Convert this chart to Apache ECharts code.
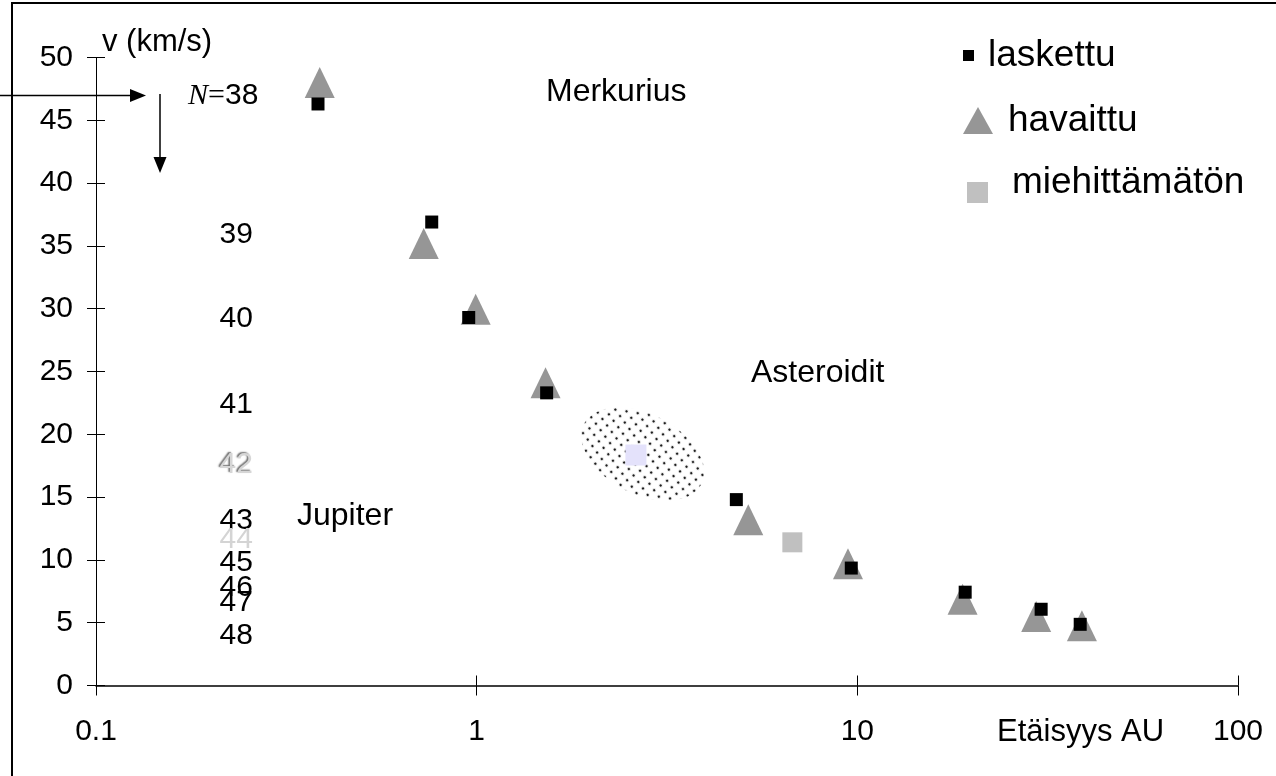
<!DOCTYPE html>
<html>
<head>
<meta charset="utf-8">
<script src="https://cdn.jsdelivr.net/npm/echarts@6/dist/echarts.min.js"></script>
<style>
  html, body { margin: 0; padding: 0; background: #fff; }
  #chart { width: 1276px; height: 776px; }
</style>
</head>
<body>
<div id="chart"></div>
<script>
// Orbital velocity v (km/s) against distance from the Sun (AU)
const calcDist = [0.383, 0.762, 0.953, 1.527, 4.81, 9.64, 19.2, 30.4, 38.5];
const calcVel  = [46.3, 36.9, 29.3, 23.3, 14.8, 9.35, 7.43, 6.07, 4.87];

const obsDist  = [0.387, 0.726, 0.994, 1.517, 5.17, 9.45, 18.9, 29.5, 38.9];
const obsVel   = [48.0, 35.2, 29.95, 24.1, 13.2, 9.7, 6.87, 5.5, 4.75];

const probeDist = [6.75];
const probeVel  = [11.4];

const beltDist = [2.62];
const beltVel  = [18.35];
const beltCenter = [2.73, 18.43];

// Quantum levels N and their velocities
const levelN   = [38, 39, 40, 41, 42, 43, 44, 45, 46, 47, 48];
const levelVel = [46.96, 35.86, 29.23, 22.36, 17.57, 13.1, 11.58, 9.74, 7.75, 6.55, 3.99];
const levelDist = 0.2335;

const xTicks = [0.1, 1, 10, 100];
const yTicks = [0, 5, 10, 15, 20, 25, 30, 35, 40, 45, 50];

const FONT = '"Liberation Sans", Arial, sans-serif';
const SERIF = '"Liberation Serif", "Times New Roman", serif';

const chart = echarts.init(document.getElementById('chart'), null, { renderer: 'canvas' });

function levelLabel(n, i) {
  const base = { show: true, position: 'inside', fontSize: 30, fontFamily: FONT, color: '#000' };
  if (i === 0) {
    return Object.assign(base, {
      formatter: '{n|N}{eq|=}' + n,
      offset: [-13, 0],
      rich: {
        n: { fontFamily: SERIF, fontStyle: 'italic', fontSize: 30, color: '#000' },
        eq: { fontFamily: SERIF, fontSize: 30, color: '#000' }
      }
    });
  }
  if (n === 42) {
    // embossed look: pale glyphs with a darker edge up and to the left
    return Object.assign(base, {
      formatter: String(n), color: '#d6d6d6',
      textShadowColor: '#6e6e6e', textShadowOffsetX: -1.5, textShadowOffsetY: -1, textShadowBlur: 1.5
    });
  }
  if (n === 44) {
    return Object.assign(base, { formatter: String(n), color: '#d4d4d4' });
  }
  return Object.assign(base, { formatter: String(n) });
}

// Legend icon: a square sitting below the text's centre line
function loweredSquareIcon(size, boxH, color) {
  const c = document.createElement('canvas');
  c.width = size; c.height = boxH;
  const g = c.getContext('2d');
  g.fillStyle = color;
  g.fillRect(0, boxH - size, size, size);
  return 'image://' + c.toDataURL();
}

const axisBase = { onZero: false };
const legendText = { fontSize: 37, fontFamily: FONT, color: '#000' };

const option = {
  animation: false,
  backgroundColor: '#fff',
  textStyle: { fontFamily: FONT },
  grid: { left: 96, right: 38, top: 57.5, bottom: 90.5, containLabel: false, outerBoundsMode: 'none' },
  legend: [
    {
      data: [{ name: 'laskettu', icon: 'rect' }],
      left: 963, top: 37, padding: 0, selectedMode: false,
      itemWidth: 11, itemHeight: 11,
      textStyle: Object.assign({ padding: [0, 0, 0, 9] }, legendText)
    },
    {
      data: [{ name: 'havaittu', icon: 'triangle' }],
      left: 963, top: 102, padding: 0, selectedMode: false,
      itemWidth: 30, itemHeight: 27,
      textStyle: Object.assign({ padding: [0, 0, 0, 10] }, legendText)
    },
    {
      data: [{ name: 'miehittämätön', icon: loweredSquareIcon(21, 40, '#c0c0c0') }],
      left: 967, top: 163, padding: 0, selectedMode: false,
      itemWidth: 21, itemHeight: 40,
      textStyle: Object.assign({ padding: [0, 0, 0, 19] }, legendText)
    }
  ],
  xAxis: [
    {
      type: 'log', logBase: 10, min: xTicks[0], max: xTicks[xTicks.length - 1],
      position: 'bottom',
      axisLine: Object.assign({ show: true, lineStyle: { color: '#000', width: 1.5 } }, axisBase),
      axisTick: { show: true, inside: false, length: 10, lineStyle: { color: '#000', width: 1 } },
      axisLabel: {
        show: true, margin: 31, fontSize: 30, fontFamily: FONT, color: '#000',
        formatter: v => String(+Number(v).toPrecision(3))
      },
      splitLine: { show: false },
      minorTick: { show: false }
    },
    {
      type: 'log', logBase: 10, min: xTicks[0], max: xTicks[xTicks.length - 1],
      position: 'bottom',
      axisLine: Object.assign({ show: false }, axisBase),
      axisTick: { show: true, inside: true, length: 10, lineStyle: { color: '#000', width: 1 } },
      axisLabel: { show: false },
      splitLine: { show: false }
    }
  ],
  yAxis: [
    {
      type: 'value', min: yTicks[0], max: yTicks[yTicks.length - 1], interval: 5,
      position: 'left',
      name: 'v (km/s)', nameLocation: 'end', nameGap: 15,
      nameTextStyle: { fontSize: 31, fontFamily: FONT, color: '#000', align: 'left', verticalAlign: 'middle', padding: [0, 0, 0, 6] },
      axisLine: Object.assign({ show: true, lineStyle: { color: '#000', width: 1 } }, axisBase),
      axisTick: { show: true, inside: false, length: 9, lineStyle: { color: '#000', width: 1 } },
      axisLabel: { show: true, margin: 23, fontSize: 30, fontFamily: FONT, color: '#000' },
      splitLine: { show: false }
    },
    {
      type: 'value', min: yTicks[0], max: yTicks[yTicks.length - 1], interval: 5,
      position: 'left',
      axisLine: Object.assign({ show: false }, axisBase),
      axisTick: { show: true, inside: true, length: 9, lineStyle: { color: '#000', width: 1 } },
      axisLabel: { show: false },
      splitLine: { show: false }
    }
  ],
  series: [
    {
      name: 'asteroidit', type: 'scatter', symbol: 'rect', symbolSize: 21,
      itemStyle: { color: '#e4e2fb', opacity: 1 },
      data: beltDist.map((d, i) => [d, beltVel[i]]),
      z: 3
    },
    {
      name: 'havaittu', type: 'scatter', symbol: 'triangle', symbolSize: [30, 31],
      itemStyle: { color: '#969696', opacity: 1 },
      data: obsDist.map((d, i) => [d, obsVel[i]]),
      z: 3
    },
    {
      name: 'laskettu', type: 'scatter', symbol: 'rect', symbolSize: 13,
      itemStyle: { color: '#000', opacity: 1 },
      data: calcDist.map((d, i) => [d, calcVel[i]]),
      z: 4
    },
    {
      name: 'miehittämätön', type: 'scatter', symbol: 'rect', symbolSize: 20,
      itemStyle: { color: '#c0c0c0', opacity: 1 },
      data: probeDist.map((d, i) => [d, probeVel[i]]),
      z: 3
    },
    {
      name: 'N', type: 'scatter', symbolSize: 0, silent: true,
      itemStyle: { opacity: 1 },
      data: levelN.map((n, i) => ({ value: [levelDist, levelVel[i]], label: levelLabel(n, i) })),
      z: 5
    }
  ]
};

chart.setOption(option);

// Dotted fill used for the asteroid belt
function dotPattern() {
  const c = document.createElement('canvas');
  c.width = 8; c.height = 8;
  const g = c.getContext('2d');
  g.fillStyle = '#1e1e1e';
  g.beginPath();
  g.arc(4, 4, 1.3, 0, Math.PI * 2);
  g.fill();
  return c;
}

const belt = chart.convertToPixel({ xAxisIndex: 0, yAxisIndex: 0 }, beltCenter);
const tilt = 27 * Math.PI / 180;

function text(str, x, y, size) {
  return {
    type: 'text', silent: true, z: 10,
    style: { text: str, x: x, y: y, fontSize: size, fontFamily: FONT, fill: '#000', align: 'left', verticalAlign: 'middle' }
  };
}

chart.setOption({
  graphic: [
    // outer frame
    {
      type: 'polyline', silent: true, z: 10,
      shape: { points: [[12, 800], [12, 3], [1300, 3]] },
      style: { stroke: '#000', lineWidth: 2, fill: null }
    },
    // asteroid belt
    {
      type: 'ellipse', silent: true, z: 0,
      x: belt[0], y: belt[1], rotation: -tilt,
      shape: { cx: 0, cy: 0, rx: 66, ry: 40 },
      style: { fill: { image: dotPattern(), repeat: 'repeat', rotation: tilt }, stroke: null }
    },
    // arrows marking the starting level
    {
      type: 'polyline', silent: true, z: 10,
      shape: { points: [[0, 95.5], [132, 95.5]] },
      style: { stroke: '#000', lineWidth: 1.5 }
    },
    {
      type: 'polygon', silent: true, z: 10,
      shape: { points: [[130, 89], [146, 95.5], [130, 102]] },
      style: { fill: '#000' }
    },
    {
      type: 'polyline', silent: true, z: 10,
      shape: { points: [[160, 94], [160, 160]] },
      style: { stroke: '#000', lineWidth: 1.5 }
    },
    {
      type: 'polygon', silent: true, z: 10,
      shape: { points: [[153.5, 157], [160, 173], [166.5, 157]] },
      style: { fill: '#000' }
    },
    text('Merkurius', 546, 92, 32),
    text('Asteroidit', 751, 373, 32),
    text('Jupiter', 297, 516, 32),
    text('Etäisyys AU', 997, 732, 31)
  ]
});
</script>
</body>
</html>
